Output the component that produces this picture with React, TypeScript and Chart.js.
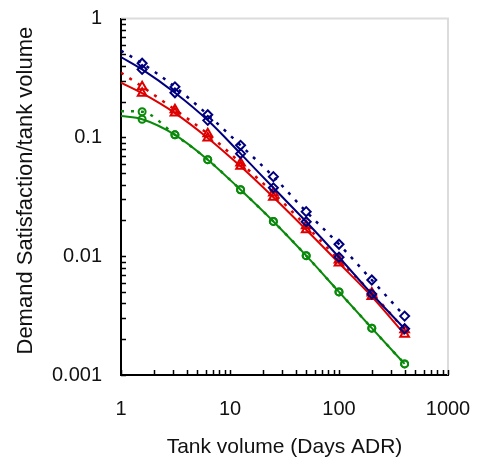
import React, { useEffect, useRef } from 'react';
import { Chart, registerables } from 'chart.js';

Chart.register(...registerables);

// Tank volume (days ADR)
const tankVolume = [1, 1.5625, 3.125, 6.25, 12.5, 25, 50, 100, 200, 400];

// Demand satisfaction / tank volume
const navyDotted = [0.536, 0.42, 0.266, 0.155, 0.0857, 0.0467, 0.0237, 0.0126, 0.0063, 0.00313];
const navySolid = [0.474, 0.373, 0.237, 0.139, 0.0729, 0.0376, 0.0195, 0.0098, 0.0048, 0.00245];
const redDotted = [0.35, 0.267, 0.171, 0.107, 0.0609, 0.034, 0.018, 0.0093, 0.0049, 0.0024];
const redSolid = [0.289, 0.235, 0.16, 0.0989, 0.057, 0.0313, 0.0167, 0.00875, 0.00457, 0.0022];
const greenDotted = [0.166, 0.164, 0.105, 0.0649, 0.0362, 0.0196, 0.0101, 0.005, 0.00248, 0.00124];
const greenSolid = [0.151, 0.142, 0.105, 0.0649, 0.0362, 0.0196, 0.0101, 0.005, 0.00248, 0.00124];

const xTickValues = [1, 10, 100, 1000];
const yTickValues = [0.001, 0.01, 0.1, 1];

const NAVY = '#00007f';
const RED = '#dd0000';
const GREEN = '#0a8a0a';

const toPoints = (ys: number[]) => tankVolume.map((x, i) => ({ x, y: ys[i] }));
const radii = (r: number) => tankVolume.map((_, i) => (i === 0 ? 0 : r));

const frameAndTicks = {
  id: 'frameAndTicks',
  beforeDatasetsDraw(chart: any) {
    const { ctx, chartArea: a, scales } = chart;
    const x = scales.x;
    const y = scales.y;
    ctx.save();
    ctx.strokeStyle = '#dcdcdc';
    ctx.lineWidth = 2;
    ctx.beginPath();
    ctx.moveTo(a.left, a.top);
    ctx.lineTo(a.right, a.top);
    ctx.lineTo(a.right, a.bottom);
    ctx.stroke();

    ctx.strokeStyle = '#000';
    ctx.lineWidth = 1.5;
    ctx.beginPath();
    for (let k = 0; k <= 2; k++) {
      for (let m = 1; m <= 10; m++) {
        const v = m * Math.pow(10, k);
        const px = Math.round(x.getPixelForValue(v)) + 0.5;
        ctx.moveTo(px, a.bottom);
        ctx.lineTo(px, a.bottom - 5);
      }
    }
    for (let k = -3; k <= -1; k++) {
      for (let m = 1; m <= 10; m++) {
        const v = m * Math.pow(10, k);
        const py = Math.round(y.getPixelForValue(v)) + 0.5;
        ctx.moveTo(a.left, py);
        ctx.lineTo(a.left + 5, py);
      }
    }
    ctx.stroke();
    ctx.restore();
  },
};

export default function App() {
  const ref = useRef<HTMLCanvasElement>(null);

  useEffect(() => {
    if (!ref.current) return;
    const solid = (label: string, data: number[], color: string, style: string, r: number) => ({
      label,
      data: toPoints(data),
      showLine: true,
      borderColor: color,
      backgroundColor: 'rgba(255,255,255,0)',
      borderWidth: 2,
      pointStyle: style,
      pointRadius: radii(r),
      pointBorderWidth: 2,
      pointBorderColor: color,
      pointBackgroundColor: 'rgba(255,255,255,0)',
      tension: 0.3,
      cubicInterpolationMode: 'monotone',
    });
    const dotted = (label: string, data: number[], color: string, style: string, r: number) => ({
      ...solid(label, data, color, style, r),
      borderWidth: 2.5,
      borderDash: [3, 7],
    });

    const chart = new Chart(ref.current, {
      type: 'scatter',
      data: {
        datasets: [
          solid('Navy model', navySolid, NAVY, 'rectRot', 4.5),
          dotted('Navy sim', navyDotted, NAVY, 'rectRot', 4.5),
          solid('Red model', redSolid, RED, 'triangle', 5),
          dotted('Red sim', redDotted, RED, 'triangle', 5),
          solid('Green model', greenSolid, GREEN, 'circle', 3.5),
          dotted('Green sim', greenDotted, GREEN, 'circle', 3.5),
        ] as any,
      },
      options: {
        animation: false,
        responsive: false,
        layout: { padding: { top: 18.5, right: 31, left: 0, bottom: 0 } },
        plugins: { legend: { display: false }, tooltip: { enabled: false } },
        scales: {
          x: {
            type: 'logarithmic',
            min: 1,
            max: 1000,
            afterBuildTicks: (s: any) => {
              s.ticks = xTickValues.map((v) => ({ value: v }));
            },
            afterFit: (s: any) => {
              s.height = 88;
              s.paddingLeft = 0;
              s.paddingRight = 0;
            },
            grid: { display: false, drawTicks: false },
            border: { display: true, color: '#000', width: 2 },
            ticks: {
              padding: 22,
              color: '#111',
              font: { family: 'Liberation Sans, Arial, sans-serif', size: 20 },
              callback: (v: any) => String(v),
              maxRotation: 0,
              autoSkip: false,
            },
            title: {
              display: true,
              text: 'Tank volume (Days ADR)',
              color: '#111',
              font: { family: 'Liberation Sans, Arial, sans-serif', size: 21 },
              padding: { top: 0, bottom: 3 },
            },
          },
          y: {
            type: 'logarithmic',
            min: 0.001,
            max: 1,
            afterBuildTicks: (s: any) => {
              s.ticks = yTickValues.map((v) => ({ value: v }));
            },
            afterFit: (s: any) => {
              s.width = 121;
              s.paddingTop = 0;
              s.paddingBottom = 0;
            },
            grid: { display: false, drawTicks: false },
            border: { display: true, color: '#000', width: 2 },
            ticks: {
              padding: 19,
              color: '#111',
              font: { family: 'Liberation Sans, Arial, sans-serif', size: 20 },
              callback: (v: any) => String(v),
              autoSkip: false,
            },
            title: {
              display: true,
              text: '  Demand Satisfaction/tank volume',
              color: '#111',
              font: { family: 'Liberation Sans, Arial, sans-serif', size: 22 },
              padding: { top: 13, bottom: 0 },
            },
          },
        },
      } as any,
      plugins: [frameAndTicks],
    });
    return () => chart.destroy();
  }, []);

  return (
    <canvas
      ref={ref}
      width={479}
      height={463}
      style={{ position: 'absolute', left: 0, top: 0, display: 'block', background: '#fff' }}
    />
  );
}
